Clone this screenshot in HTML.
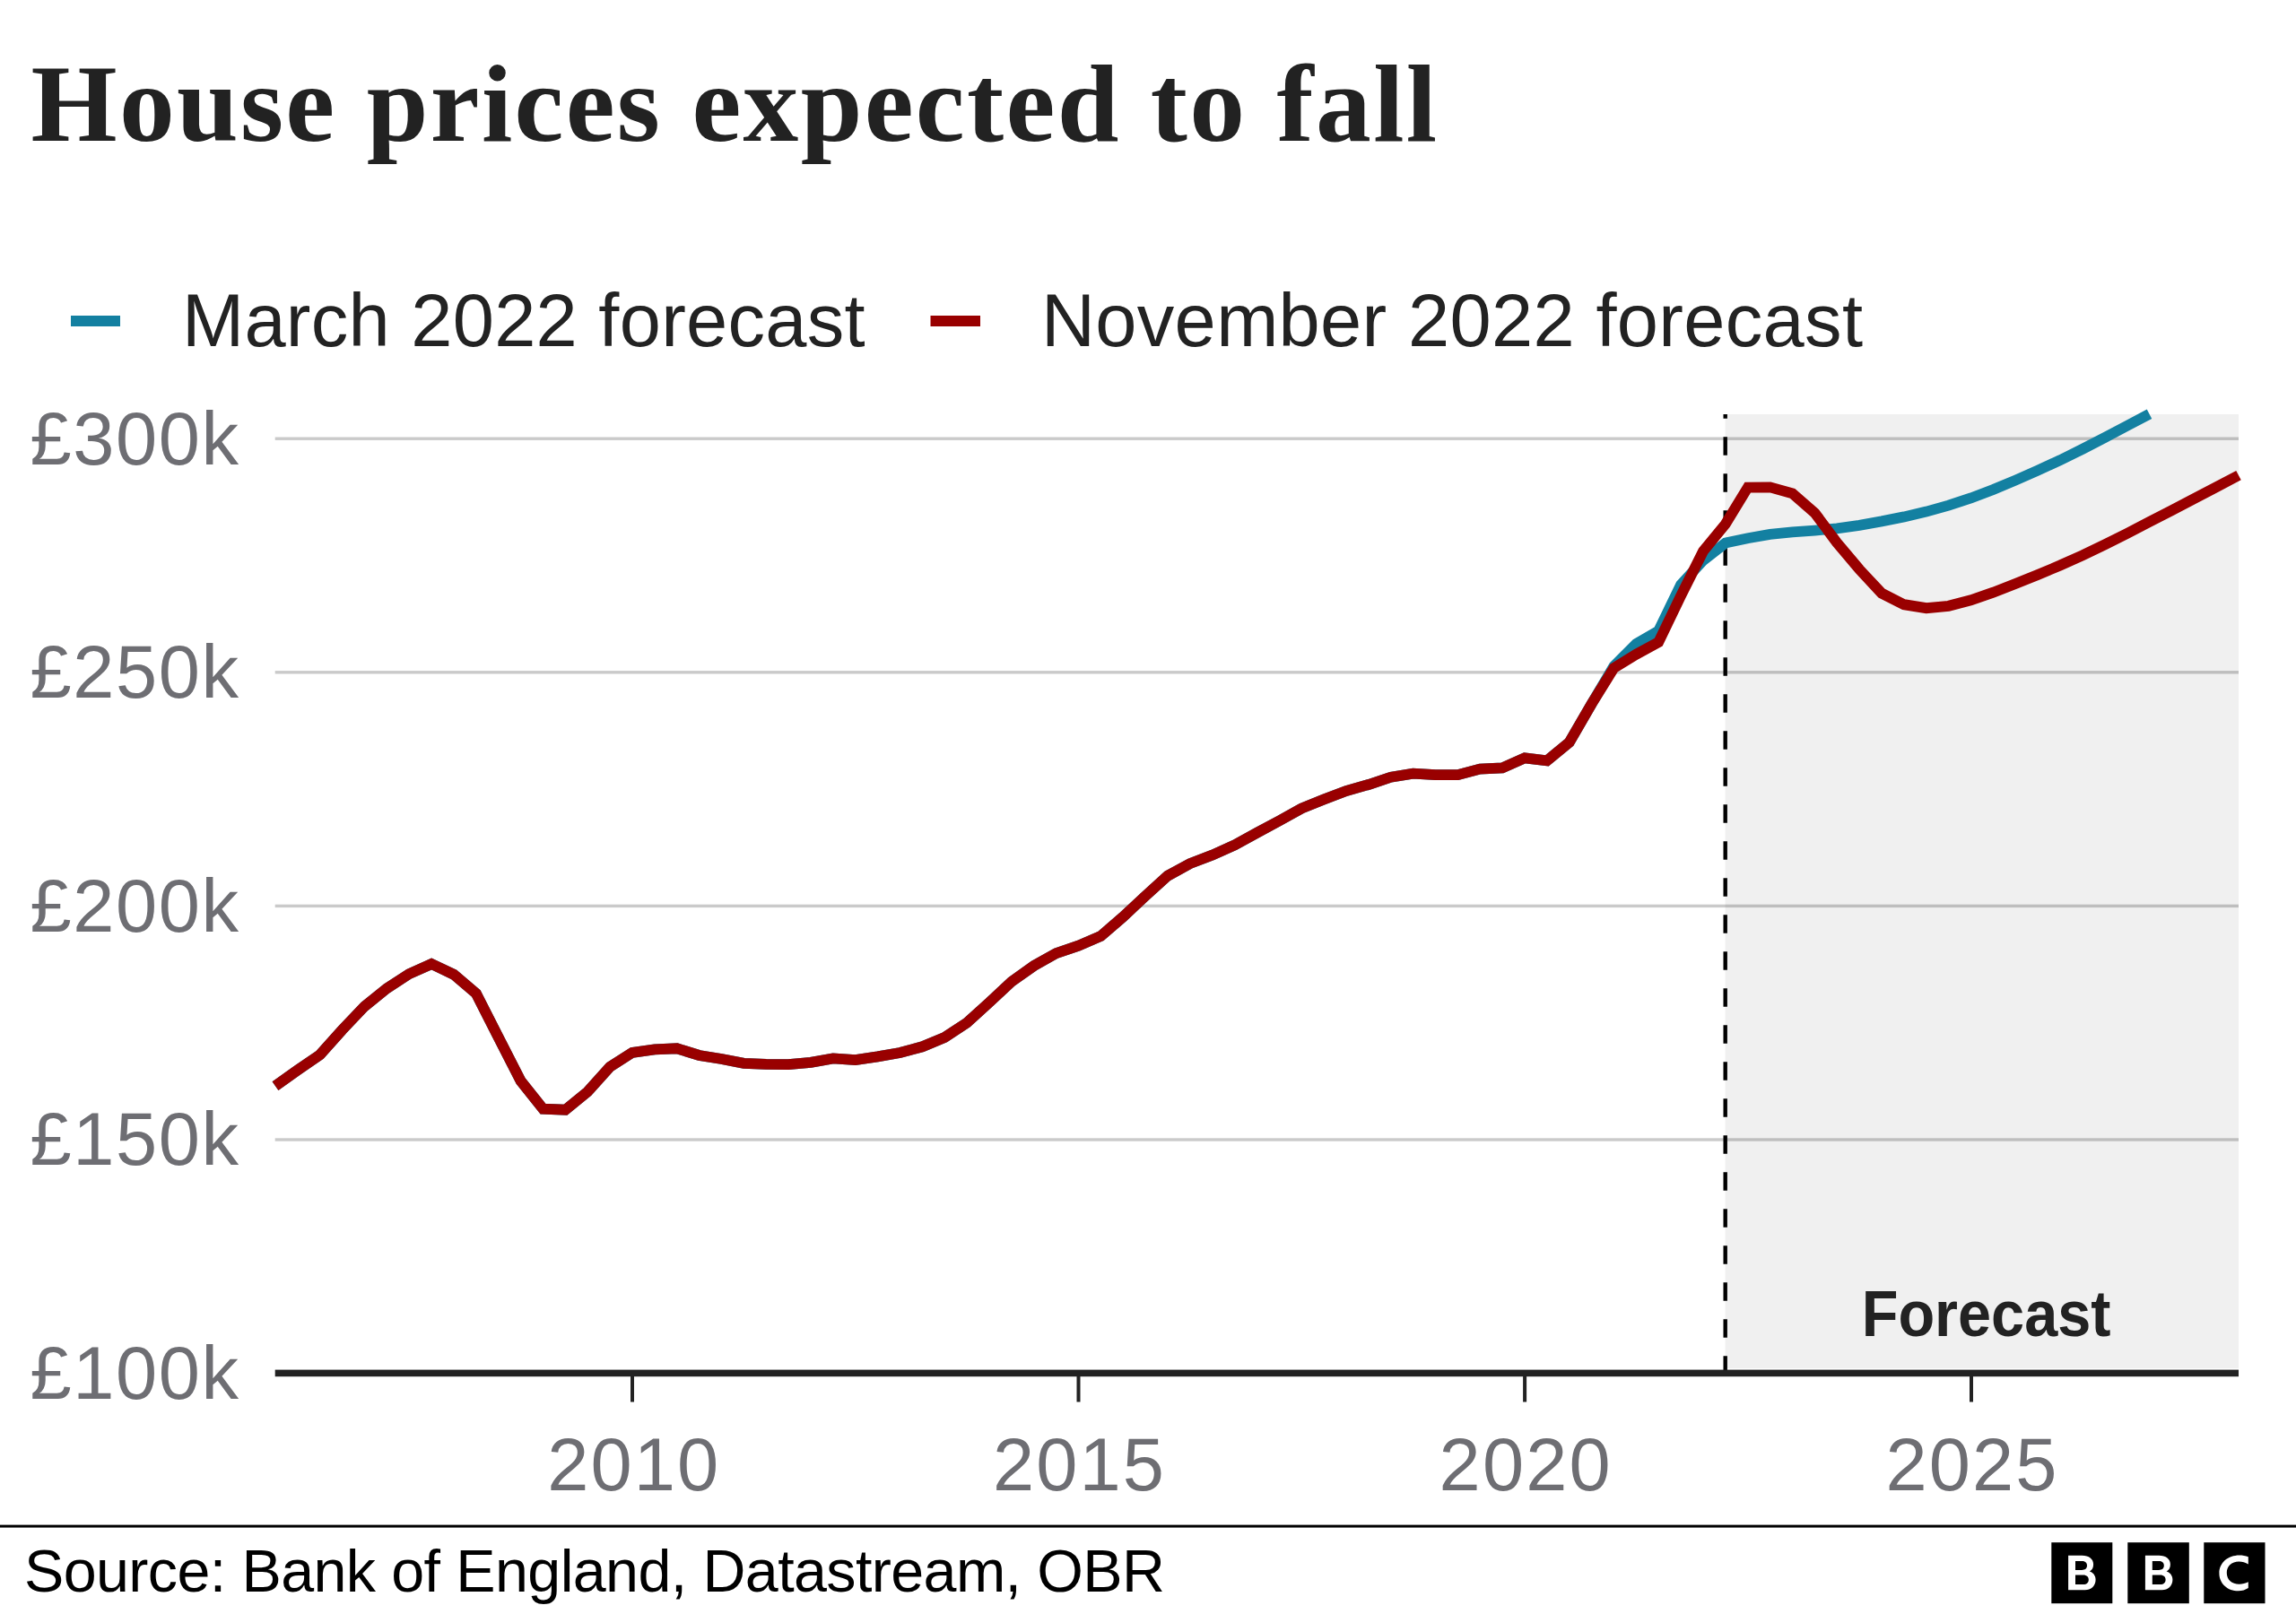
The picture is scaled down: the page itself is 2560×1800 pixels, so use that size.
<!DOCTYPE html>
<html><head><meta charset="utf-8"><title>House prices expected to fall</title>
<style>
html,body{margin:0;padding:0;background:#fff;}
body{width:2560px;height:1800px;overflow:hidden;}
svg{display:block;}
.sans{font-family:"Liberation Sans",sans-serif;}
.serif{font-family:"Liberation Serif",serif;}
</style></head>
<body>
<svg width="2560" height="1800" viewBox="0 0 2560 1800">
<rect x="0" y="0" width="2560" height="1800" fill="#fff"/>
<!-- Title -->
<text id="t_title" class="serif" x="34.5" y="157" textLength="1567.6" lengthAdjust="spacing" font-size="123.5" font-weight="bold" fill="#222">House prices expected to fall</text>
<!-- Legend -->
<rect x="79" y="352" width="55" height="12" fill="#1380a1"/>
<text id="t_leg1" class="sans" x="203" y="386" textLength="761.5" lengthAdjust="spacing" font-size="83" fill="#222">March 2022 forecast</text>
<rect x="1037.5" y="352" width="55.5" height="12" fill="#990000"/>
<text id="t_leg2" class="sans" x="1161" y="386" textLength="916" lengthAdjust="spacing" font-size="83" fill="#222">November 2022 forecast</text>
<!-- gridlines -->
<g fill="#cacaca">
<rect x="306.7" y="487.5" width="2189.3" height="3.4"/>
<rect x="306.7" y="748.1" width="2189.3" height="3.4"/>
<rect x="306.7" y="1008.7" width="2189.3" height="3.4"/>
<rect x="306.7" y="1269.3" width="2189.3" height="3.4"/>
</g>
<!-- y labels -->
<g class="sans" font-size="83" fill="#6e6e73" text-anchor="end">
<text id="t_y300" x="266" textLength="232.5" lengthAdjust="spacing" y="517.5">£300k</text>
<text id="t_y250" x="266" textLength="232.5" lengthAdjust="spacing" y="778">£250k</text>
<text id="t_y200" x="266" textLength="232.5" lengthAdjust="spacing" y="1038.5">£200k</text>
<text id="t_y150" x="266" textLength="232.5" lengthAdjust="spacing" y="1299">£150k</text>
<text id="t_y100" x="266" textLength="232.5" lengthAdjust="spacing" y="1559.7">£100k</text>
</g>
<!-- forecast shading -->
<rect x="1923.6" y="462" width="572.4" height="1064" fill="#000" fill-opacity="0.059"/>
<!-- dashed line -->
<line x1="1923.7" y1="1532.8" x2="1923.7" y2="462" stroke="#000" stroke-width="4.4" stroke-dasharray="20.5 20.5"/>
<!-- Forecast label -->
<text id="t_fc" class="sans" x="2075.7" textLength="277.8" lengthAdjust="spacingAndGlyphs" y="1490.4" font-size="73" font-weight="bold" fill="#222">Forecast</text>
<!-- data lines -->
<polyline points="307.0,1211.1 331.9,1193.4 356.8,1176.3 381.6,1148.5 406.5,1122.3 431.4,1102.2 456.2,1086.1 481.1,1075.0 506.0,1086.8 530.9,1108.0 555.8,1157.0 580.6,1205.5 605.5,1236.6 630.4,1237.7 655.2,1217.5 680.1,1189.8 705.0,1173.9 729.9,1170.3 754.8,1169.3 779.6,1177.0 804.5,1181.0 829.4,1185.8 854.2,1186.8 879.1,1187.2 904.0,1184.9 928.9,1180.4 953.8,1182.1 978.6,1178.4 1003.5,1174.0 1028.4,1167.3 1053.2,1157.0 1078.1,1140.6 1103.0,1118.0 1127.9,1094.8 1152.8,1077.1 1177.6,1063.2 1202.5,1054.7 1227.4,1044.0 1252.2,1022.5 1277.1,999.2 1302.0,976.7 1326.9,963.1 1351.8,953.6 1376.6,942.4 1401.5,928.8 1426.4,915.4 1451.2,901.5 1476.1,891.6 1501.0,882.0 1525.9,875.0 1550.8,866.7 1575.6,862.6 1600.5,864.2 1625.4,864.1 1650.2,857.5 1675.1,856.3 1700.0,845.4 1724.9,848.3 1749.8,827.8 1774.6,785.0 1799.5,743.0 1824.4,718.0 1849.2,703.5 1874.1,652.0 1899.0,625.0 1923.9,605.5 1948.8,600.2 1973.6,595.9 1998.5,593.4 2023.4,591.6 2048.2,589.3 2073.1,585.8 2098.0,581.4 2122.9,576.4 2147.8,570.6 2172.6,563.6 2197.5,555.4 2222.4,545.9 2247.2,535.6 2272.1,524.7 2297.0,513.2 2321.9,500.9 2346.8,488.0 2371.6,474.9 2396.5,461.8" fill="none" stroke="#1380a1" stroke-width="11.8" stroke-linejoin="miter" stroke-miterlimit="10" stroke-linecap="butt"/>
<polyline points="307.0,1211.1 331.9,1193.4 356.8,1176.3 381.6,1148.5 406.5,1122.3 431.4,1102.2 456.2,1086.1 481.1,1075.0 506.0,1086.8 530.9,1108.0 555.8,1157.0 580.6,1205.5 605.5,1236.6 630.4,1237.7 655.2,1217.5 680.1,1189.8 705.0,1173.9 729.9,1170.3 754.8,1169.3 779.6,1177.0 804.5,1181.0 829.4,1185.8 854.2,1186.8 879.1,1187.2 904.0,1184.9 928.9,1180.4 953.8,1182.1 978.6,1178.4 1003.5,1174.0 1028.4,1167.3 1053.2,1157.0 1078.1,1140.6 1103.0,1118.0 1127.9,1094.8 1152.8,1077.1 1177.6,1063.2 1202.5,1054.7 1227.4,1044.0 1252.2,1022.5 1277.1,999.2 1302.0,976.7 1326.9,963.1 1351.8,953.6 1376.6,942.4 1401.5,928.8 1426.4,915.4 1451.2,901.5 1476.1,891.6 1501.0,882.0 1525.9,875.0 1550.8,866.7 1575.6,862.6 1600.5,864.2 1625.4,864.1 1650.2,857.5 1675.1,856.3 1700.0,845.4 1724.9,848.3 1749.8,827.8 1774.6,785.0 1799.5,745.0 1824.4,729.7 1849.2,716.2 1874.1,664.5 1899.0,614.8 1923.9,584.4 1948.8,543.5 1973.6,543.3 1998.5,550.4 2023.4,572.0 2048.2,605.3 2073.1,634.9 2098.0,661.6 2122.9,674.2 2147.8,678.2 2172.6,675.8 2197.5,669.3 2222.4,660.7 2247.2,651.1 2272.1,641.0 2297.0,630.5 2321.9,619.3 2346.8,607.4 2371.6,594.9 2396.5,582.1 2421.4,569.2 2446.2,556.2 2471.1,543.2 2496.0,530.1" fill="none" stroke="#990000" stroke-width="11.8" stroke-linejoin="miter" stroke-miterlimit="10" stroke-linecap="butt"/>
<!-- axis -->
<rect x="306.7" y="1527.6" width="2189.3" height="7.6" fill="#222"/>
<g fill="#222">
<rect x="703" y="1534" width="4" height="29.5"/>
<rect x="1200.5" y="1534" width="4" height="29.5"/>
<rect x="1698.1" y="1534" width="4" height="29.5"/>
<rect x="2196" y="1534" width="4" height="29.5"/>
</g>
<!-- x labels -->
<g class="sans" font-size="83" fill="#6e6e73" text-anchor="middle">
<text id="t_x2010" x="705.7" textLength="191" lengthAdjust="spacing" y="1662">2010</text>
<text id="t_x2015" x="1202.4" textLength="191" lengthAdjust="spacing" y="1662">2015</text>
<text id="t_x2020" x="1700.1" textLength="191" lengthAdjust="spacing" y="1662">2020</text>
<text id="t_x2025" x="2198" textLength="191" lengthAdjust="spacing" y="1662">2025</text>
</g>
<!-- footer -->
<rect x="0" y="1700.6" width="2560" height="3" fill="#000"/>
<text id="t_src" class="sans" x="27" textLength="1272" lengthAdjust="spacing" y="1774.5" font-size="66.4" fill="#000">Source: Bank of England, Datastream, OBR</text>
<!-- BBC logo -->
<g fill="#000">
<rect x="2287.3" y="1720.2" width="68" height="68"/>
<rect x="2372.3" y="1720.2" width="68.5" height="68"/>
<rect x="2457.3" y="1720.2" width="68.2" height="68"/>
</g>
<g fill="#fff">
<path fill-rule="evenodd" transform="translate(2287.3 1720.2)" d="M18.8,14.6 H34 C42,14.6 46.8,18.5 46.8,24.5 C46.8,28.5 45,31 42.5,32.2 C46.5,33.5 49.3,36.8 49.3,41.5 C49.3,48.5 44,53 37.5,53 H18.8 Z M26.7,20.9 H34 C37.5,20.9 39.7,22.6 39.7,25.8 C39.7,29 37.5,30.7 34,30.7 H26.7 Z M26.7,36.2 H35.5 C39.5,36.2 41.5,38.5 41.5,41.5 C41.5,44.6 39.5,46.8 35.5,46.8 H26.7 Z"/>
<path fill-rule="evenodd" transform="translate(2373.1 1720.2)" d="M18.8,14.6 H34 C42,14.6 46.8,18.5 46.8,24.5 C46.8,28.5 45,31 42.5,32.2 C46.5,33.5 49.3,36.8 49.3,41.5 C49.3,48.5 44,53 37.5,53 H18.8 Z M26.7,20.9 H34 C37.5,20.9 39.7,22.6 39.7,25.8 C39.7,29 37.5,30.7 34,30.7 H26.7 Z M26.7,36.2 H35.5 C39.5,36.2 41.5,38.5 41.5,41.5 C41.5,44.6 39.5,46.8 35.5,46.8 H26.7 Z"/>
<path transform="translate(2457.3 1720.2)" d="M49.5,16 C46.5,14.8 43,14.2 39.5,14.2 C27,14.2 17.1,22.5 17.1,34.2 C17.1,46 26.5,54.1 38.5,54.1 C42.5,54.1 46.5,52.8 49.5,50.8 V44 C46.5,45.6 43,46.5 39.5,46.5 C31,46.5 25.5,41.5 25.5,33.8 C25.5,26.2 31,21.2 39,21.2 C42.8,21.2 46.5,22.5 49.5,24.2 Z"/>
</g>
</svg>
</body></html>
